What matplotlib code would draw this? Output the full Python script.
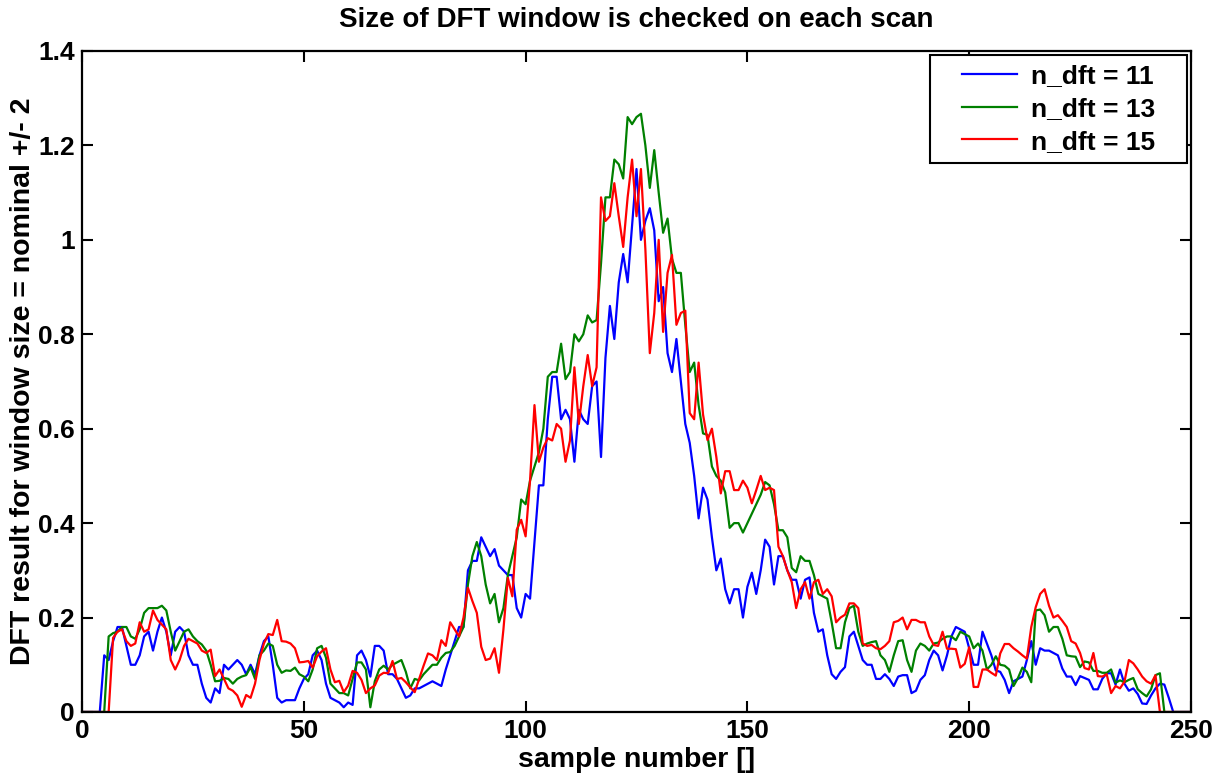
import numpy as np
import matplotlib
matplotlib.use("Agg")
import matplotlib.pyplot as plt
from matplotlib.lines import Line2D
from matplotlib.legend_handler import HandlerLine2D

# DFT magnitude per sample, one list per window size
dft_11 = [0, 0, 0, 0, 0, 0.12, 0.11, 0.15, 0.18, 0.18,
          0.14, 0.10, 0.10, 0.12, 0.16, 0.17, 0.13, 0.17, 0.20, 0.17,
          0.12, 0.17, 0.18, 0.17, 0.12, 0.10, 0.10, 0.06, 0.03, 0.02,
          0.05, 0.04, 0.10, 0.09, 0.10, 0.11, 0.10, 0.08, 0.10, 0.08,
          0.12, 0.15, 0.16, 0.10, 0.03, 0.02, 0.025, 0.025, 0.025, 0.05,
          0.07, 0.08, 0.12, 0.13, 0.11, 0.06, 0.03, 0.025, 0.02, 0.01,
          0.02, 0.015, 0.12, 0.13, 0.11, 0.075, 0.14, 0.14, 0.13, 0.08,
          0.08, 0.07, 0.05, 0.03, 0.035, 0.05, 0.05, 0.055, 0.06, 0.065,
          0.06, 0.055, 0.09, 0.12, 0.15, 0.18, 0.18, 0.30, 0.32, 0.32,
          0.37, 0.35, 0.33, 0.345, 0.31, 0.30, 0.29, 0.29, 0.22, 0.20,
          0.25, 0.24, 0.36, 0.48, 0.48, 0.62, 0.71, 0.71, 0.62, 0.64,
          0.62, 0.53, 0.64, 0.62, 0.61, 0.69, 0.70, 0.54, 0.75, 0.86,
          0.79, 0.91, 0.97, 0.91, 1.03, 1.15, 1.00, 1.04, 1.067, 1.02,
          0.87, 0.90, 0.76, 0.72, 0.79, 0.70, 0.61, 0.57, 0.50, 0.41,
          0.475, 0.45, 0.37, 0.30, 0.325, 0.26, 0.23, 0.26, 0.26, 0.20,
          0.265, 0.295, 0.25, 0.30, 0.365, 0.35, 0.27, 0.33, 0.33, 0.30,
          0.28, 0.28, 0.24, 0.28, 0.285, 0.21, 0.17, 0.175, 0.12, 0.08,
          0.07, 0.085, 0.095, 0.16, 0.17, 0.14, 0.11, 0.10, 0.10, 0.07,
          0.07, 0.08, 0.07, 0.055, 0.075, 0.078, 0.078, 0.04, 0.045, 0.068,
          0.078, 0.11, 0.13, 0.12, 0.088, 0.12, 0.16, 0.18, 0.175, 0.17,
          0.135, 0.10, 0.10, 0.17, 0.145, 0.12, 0.088, 0.085, 0.068, 0.04,
          0.065, 0.07, 0.075, 0.11, 0.15, 0.10, 0.135, 0.13, 0.13, 0.125,
          0.12, 0.092, 0.075, 0.075, 0.057, 0.076, 0.072, 0.068, 0.048, 0.048,
          0.07, 0.082, 0.082, 0.058, 0.09, 0.06, 0.045, 0.05, 0.038, 0.018,
          0.017, 0.035, 0.05, 0.06, 0.058, 0.03, 0, 0, 0, 0, 0]

dft_13 = [0, 0, 0, 0, 0, 0, 0.16, 0.167, 0.17, 0.18,
          0.18, 0.16, 0.155, 0.175, 0.21, 0.22, 0.22, 0.22, 0.225, 0.215,
          0.17, 0.13, 0.15, 0.17, 0.175, 0.16, 0.15, 0.143, 0.13, 0.10,
          0.065, 0.066, 0.072, 0.07, 0.06, 0.07, 0.075, 0.078, 0.095, 0.07,
          0.12, 0.13, 0.145, 0.14, 0.10, 0.083, 0.088, 0.087, 0.094, 0.08,
          0.075, 0.065, 0.09, 0.135, 0.14, 0.115, 0.06, 0.05, 0.04, 0.04,
          0.035, 0.07, 0.105, 0.105, 0.09, 0.01, 0.065, 0.09, 0.098, 0.09,
          0.10, 0.105, 0.11, 0.085, 0.05, 0.07, 0.067, 0.08, 0.09, 0.10,
          0.10, 0.115, 0.125, 0.127, 0.14, 0.16, 0.18, 0.27, 0.33, 0.36,
          0.33, 0.27, 0.23, 0.25, 0.19, 0.22, 0.29, 0.33, 0.37, 0.45,
          0.44, 0.49, 0.52, 0.55, 0.60, 0.71, 0.72, 0.72, 0.78, 0.705,
          0.72, 0.80, 0.785, 0.80, 0.84, 0.825, 0.83, 0.95, 1.09, 1.09,
          1.17, 1.16, 1.13, 1.26, 1.245, 1.26, 1.267, 1.20, 1.11, 1.19,
          1.10, 1.015, 1.045, 0.96, 0.93, 0.93, 0.82, 0.72, 0.74, 0.65,
          0.59, 0.587, 0.52, 0.50, 0.49, 0.465, 0.39, 0.40, 0.40, 0.38,
          0.40, 0.42, 0.44, 0.46, 0.487, 0.48, 0.44, 0.385, 0.385, 0.37,
          0.305, 0.296, 0.33, 0.32, 0.32, 0.29, 0.25, 0.245, 0.24, 0.19,
          0.135, 0.135, 0.19, 0.22, 0.225, 0.17, 0.14, 0.145, 0.148, 0.15,
          0.12, 0.11, 0.085, 0.12, 0.15, 0.152, 0.11, 0.085, 0.13, 0.145,
          0.14, 0.13, 0.145, 0.147, 0.155, 0.16, 0.16, 0.152, 0.17, 0.165,
          0.16, 0.135, 0.145, 0.13, 0.09, 0.10, 0.118, 0.10, 0.098, 0.09,
          0.055, 0.072, 0.094, 0.085, 0.063, 0.215, 0.217, 0.205, 0.17, 0.18,
          0.18, 0.155, 0.12, 0.118, 0.117, 0.095, 0.107, 0.105, 0.087, 0.087,
          0.083, 0.083, 0.09, 0.062, 0.067, 0.063, 0.068, 0.072, 0.048, 0.04,
          0.033, 0.048, 0.078, 0.082, 0, 0, 0, 0, 0, 0, 0]

dft_15 = [0, 0, 0, 0, 0, 0, 0, 0.157, 0.17, 0.175,
          0.15, 0.14, 0.145, 0.19, 0.17, 0.175, 0.215, 0.195, 0.185, 0.175,
          0.11, 0.09, 0.11, 0.14, 0.155, 0.15, 0.145, 0.13, 0.125, 0.132,
          0.076, 0.09, 0.07, 0.05, 0.045, 0.035, 0.011, 0.036, 0.03, 0.06,
          0.11, 0.145, 0.165, 0.163, 0.195, 0.15, 0.149, 0.145, 0.135, 0.105,
          0.106, 0.108, 0.094, 0.118, 0.128, 0.135, 0.09, 0.063, 0.066, 0.042,
          0.056, 0.087, 0.083, 0.068, 0.04, 0.05, 0.056, 0.077, 0.083, 0.082,
          0.108, 0.07, 0.072, 0.063, 0.052, 0.042, 0.07, 0.098, 0.124, 0.12,
          0.11, 0.152, 0.14, 0.19, 0.175, 0.16, 0.20, 0.263, 0.235, 0.21,
          0.138, 0.11, 0.113, 0.135, 0.083, 0.175, 0.284, 0.245, 0.386, 0.407,
          0.372, 0.49, 0.65, 0.53, 0.56, 0.58, 0.575, 0.61, 0.60, 0.53,
          0.575, 0.73, 0.61, 0.69, 0.756, 0.69, 0.73, 1.09, 1.04, 1.05,
          1.12, 1.05, 0.985, 1.09, 1.17, 1.05, 1.15, 0.98, 0.76, 0.845,
          1.00, 0.805, 0.93, 0.968, 0.82, 0.845, 0.85, 0.633, 0.62, 0.74,
          0.63, 0.576, 0.60, 0.54, 0.463, 0.51, 0.51, 0.47, 0.47, 0.49,
          0.475, 0.442, 0.47, 0.50, 0.47, 0.475, 0.47, 0.35, 0.33, 0.30,
          0.275, 0.22, 0.26, 0.275, 0.24, 0.275, 0.28, 0.25, 0.26, 0.245,
          0.19, 0.20, 0.206, 0.23, 0.23, 0.22, 0.145, 0.14, 0.142, 0.135,
          0.133, 0.14, 0.15, 0.19, 0.193, 0.20, 0.175, 0.195, 0.195, 0.19,
          0.19, 0.16, 0.142, 0.14, 0.17, 0.134, 0.134, 0.133, 0.094, 0.102,
          0.137, 0.053, 0.053, 0.09, 0.09, 0.083, 0.077, 0.124, 0.144, 0.144,
          0.135, 0.128, 0.12, 0.113, 0.18, 0.222, 0.25, 0.26, 0.225, 0.20,
          0.205, 0.193, 0.18, 0.15, 0.145, 0.125, 0.093, 0.09, 0.125, 0.076,
          0.075, 0.08, 0.04, 0.055, 0.05, 0.064, 0.11, 0.103, 0.09, 0.075,
          0.065, 0.06, 0.078, 0, 0, 0, 0, 0, 0, 0, 0]

series = [(dft_11, 'n_dft = 11', (0, 0, 1)),
          (dft_13, 'n_dft = 13', (0, 0.5, 0)),
          (dft_15, 'n_dft = 15', (1, 0, 0))]

x_ticks = [0, 50, 100, 150, 200, 250]
y_ticks = [0, 0.2, 0.4, 0.6, 0.8, 1, 1.2, 1.4]
y_tick_labels = ['0', '0.2', '0.4', '0.6', '0.8', '1', '1.2', '1.4']

plt.rcParams['font.family'] = ['Liberation Sans', 'DejaVu Sans']
plt.rcParams['font.weight'] = 'bold'

fs = 19

fig = plt.figure(figsize=(12.19, 7.76), dpi=100)
ax = fig.add_axes([0.0673, 0.0825, 0.9097, 0.8518])

for values, label, color in series:
    ax.plot(np.arange(len(values)), values, color=color, lw=1.6, label=label + '   ')

ax.set_xlim(0, 250)
ax.set_ylim(0, 1.4)
ax.set_xticks(x_ticks)
ax.set_yticks(y_ticks)
ax.set_yticklabels(y_tick_labels)
ax.tick_params(direction='in', top=True, right=True, length=8, width=1.5,
               labelsize=fs, pad=5)
for spine in ax.spines.values():
    spine.set_linewidth(1.6)

ax.set_title('Size of DFT window is checked on each scan', fontsize=20,
             fontweight='bold', pad=17)
ax.set_xlabel('sample number []', fontsize=20.5, fontweight='bold', labelpad=3)
ax.set_ylabel('DFT result for window size = nominal +/- 2', fontsize=20.5,
              fontweight='bold', labelpad=2)

# MATLAB-like legend: extra room left of the line samples
leg = ax.legend(loc='upper right', fontsize=fs, fancybox=False,
                edgecolor='black', framealpha=1, borderaxespad=0.15,
                handlelength=2.95, handletextpad=0.55, labelspacing=0.33,
                borderpad=0.35,
                handler_map={Line2D: HandlerLine2D(xpad=0.87)})
leg.get_frame().set_linewidth(1.5)

fig.savefig('out.png', dpi=100)
